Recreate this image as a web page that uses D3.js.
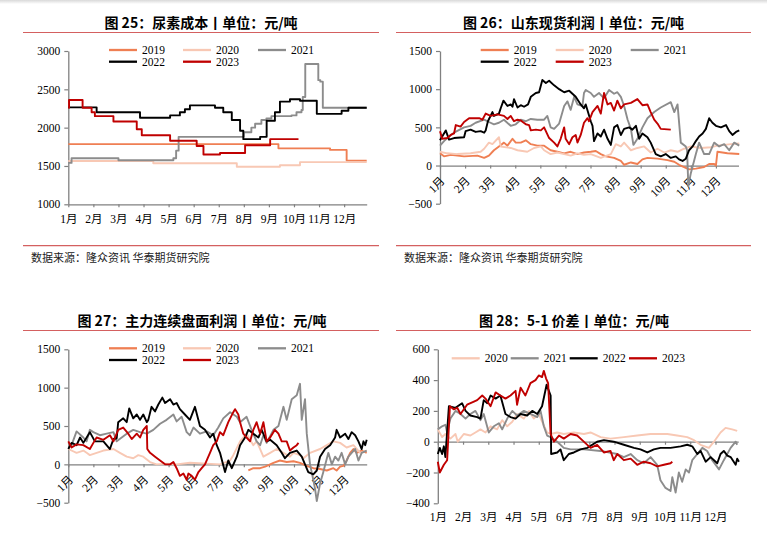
<!DOCTYPE html>
<html>
<head>
<meta charset="utf-8">
<script src="https://cdn.jsdelivr.net/npm/d3@7"></script>
<style>
body { margin: 0; background: #fff; }
</style>
</head>
<body>
<svg width="767" height="535"></svg>
<script>
// x values are month positions (0 = 1 Jan, 11.9 = end of Dec)
var monthTicks = [0, 1, 2, 3, 4, 5, 6, 7, 8, 9, 10, 11];
var monthLabels = ["1月", "2月", "3月", "4月", "5月", "6月", "7月", "8月", "9月", "10月", "11月", "12月"];

var yearColor = {"2019": "#ef7f53", "2020": "#f8c8b4", "2021": "#8c8c8c", "2022": "#000000", "2023": "#c00000"};

var costTicks = [1000, 1500, 2000, 2500, 3000];
var profitTicks = [-500, 0, 500, 1000, 1500];
var spreadTicks = [-400, -200, 0, 200, 400, 600];

// 图25 尿素成本 (step data)
var cost2019 = [[0,1785],[8.38,1730],[10.44,1710],[11.1,1570],[11.9,1570]];
var cost2020 = [[0,1565],[3.39,1535],[6.72,1490],[8.44,1510],[9.24,1550],[11.9,1550]];
var cost2021 = [[0,1540],[0.13,1600],[2.0,1575],[4.19,1600],[4.3,1700],[4.4,1880],[7.0,1940],[7.3,2000],[7.45,2050],[7.7,2100],[7.9,2120],[8.1,2150],[8.9,2160],[9.1,2200],[9.3,2230],[9.35,2400],[9.45,2830],[9.92,2830],[9.97,2620],[10.05,2600],[10.15,2260],[11.9,2260]];
var cost2022 = [[0,2265],[1.13,2200],[2.86,2130],[4.06,2160],[4.45,2200],[4.65,2240],[4.85,2290],[5.85,2260],[6.18,2200],[6.52,2100],[6.85,1960],[6.98,1850],[7.65,1880],[7.91,2090],[8.24,2200],[8.44,2340],[8.84,2370],[9.24,2350],[9.91,2180],[10.9,2220],[11.17,2260],[11.9,2260]];
var cost2023 = [[0,2260],[0.03,2360],[0.57,2260],[0.93,2200],[1.06,2150],[1.8,2080],[2.73,1980],[2.93,1900],[4.06,1830],[5.12,1760],[5.39,1650],[6.05,1670],[7.05,1770],[8.05,1850],[9.18,1850]];

// 图26 山东现货利润
var spot2019 = [[0,160],[0.16,120],[0.43,140],[0.96,120],[1.49,130],[1.76,100],[1.95,130],[2.15,200],[2.35,250],[2.55,300],[2.69,260],[2.89,350],[3.02,300],[3.22,300],[3.42,330],[3.62,280],[3.88,260],[4.15,260],[4.41,200],[4.68,180],[4.95,160],[5.21,180],[5.48,150],[5.74,170],[6.01,180],[6.21,190],[6.41,150],[6.61,120],[6.94,100],[7.21,60],[7.34,10],[7.61,40],[7.87,20],[8.07,80],[8.27,100],[8.67,90],[9.07,70],[9.34,50],[9.53,10],[9.73,-20],[9.93,-50],[10.2,-40],[10.53,-20],[10.73,20],[10.93,20],[11.0,0],[11.06,180],[11.46,160],[11.93,150]];
var spot2020 = [[0,180],[0.29,160],[0.69,150],[1.22,160],[1.62,180],[1.76,220],[1.95,300],[2.09,280],[2.35,370],[2.42,250],[2.82,230],[3.09,200],[3.48,180],[3.75,230],[4.02,250],[4.15,200],[4.41,150],[4.68,170],[4.95,150],[5.21,130],[5.48,160],[5.74,140],[6.01,150],[6.41,100],[6.81,150],[7.01,280],[7.21,250],[7.34,300],[7.61,200],[7.87,230],[8.14,250],[8.40,170],[8.67,220],[8.94,170],[9.20,200],[9.47,180],[9.73,220],[10.0,250],[10.4,230],[10.8,240],[11.06,260],[11.33,270],[11.60,280],[11.93,290]];
var spot2021 = [[0,260],[0.16,320],[0.43,400],[0.56,430],[0.96,500],[1.22,520],[1.42,560],[1.76,600],[1.95,570],[2.15,540],[2.35,560],[2.55,600],[2.82,520],[3.02,540],[3.22,600],[3.42,580],[3.62,610],[3.88,600],[4.15,600],[4.28,650],[4.41,500],[4.55,480],[4.75,550],[4.95,780],[5.08,840],[5.21,730],[5.35,900],[5.48,800],[5.68,780],[5.74,950],[5.81,990],[6.01,950],[6.14,900],[6.34,950],[6.54,880],[6.74,990],[6.94,940],[7.07,960],[7.21,900],[7.34,780],[7.48,600],[7.61,480],[7.71,270],[7.87,350],[8.07,500],[8.27,620],[8.54,700],[8.80,760],[9.20,830],[9.34,700],[9.47,800],[9.60,300],[9.80,250],[9.85,200],[9.9,-270],[10.0,-100],[10.2,150],[10.33,300],[10.53,150],[10.73,150],[10.93,300],[11.13,250],[11.33,280],[11.53,200],[11.73,300],[11.93,260]];
var spot2022 = [[0,330],[0.23,460],[0.36,340],[0.56,360],[0.96,370],[1.02,450],[1.22,470],[1.42,440],[1.62,450],[1.76,430],[1.82,460],[1.91,580],[2.09,700],[2.15,650],[2.35,680],[2.42,750],[2.53,850],[2.69,780],[2.82,800],[2.89,770],[2.95,870],[3.09,760],[3.22,790],[3.35,770],[3.51,800],[3.62,900],[3.82,950],[3.95,960],[4.08,1120],[4.22,1080],[4.35,1110],[4.55,1050],[4.75,1000],[4.95,960],[5.15,980],[5.41,900],[5.61,800],[5.74,750],[5.81,800],[5.90,700],[6.01,580],[6.08,520],[6.14,320],[6.28,420],[6.41,380],[6.54,470],[6.68,350],[6.81,270],[6.94,500],[7.07,530],[7.21,400],[7.34,480],[7.54,500],[7.67,470],[7.81,520],[7.94,350],[8.07,420],[8.27,370],[8.40,300],[8.60,150],[8.80,120],[9.00,150],[9.20,100],[9.40,120],[9.53,80],[9.67,60],[9.80,90],[9.93,200],[10.07,250],[10.2,320],[10.33,380],[10.47,420],[10.60,480],[10.73,620],[10.86,560],[11.0,520],[11.20,500],[11.40,530],[11.53,450],[11.66,400],[11.80,440],[11.93,460]];
var spot2023 = [[0,450],[0.09,350],[0.29,360],[0.43,400],[0.56,420],[0.63,530],[0.82,510],[0.96,570],[1.16,620],[1.56,620],[1.69,600],[1.82,680],[2.02,650],[2.29,670],[2.55,650],[2.69,610],[2.82,650],[2.95,580],[3.09,600],[3.22,590],[3.42,540],[3.55,530],[3.62,460],[3.82,470],[4.02,460],[4.15,500],[4.35,360],[4.55,300],[4.68,250],[4.81,350],[4.95,500],[5.01,350],[5.15,280],[5.28,370],[5.41,400],[5.48,300],[5.61,400],[5.74,560],[5.88,620],[5.94,580],[6.08,700],[6.28,780],[6.41,680],[6.54,950],[6.68,800],[6.81,820],[6.94,720],[7.07,850],[7.21,750],[7.34,800],[7.61,820],[7.87,870],[8.07,790],[8.27,800],[8.40,700],[8.54,600],[8.67,550],[8.80,480],[9.20,470]];

// 图27 主力连续盘面利润
var fut2019 = [[7.18,-80],[7.38,-50],[7.65,-50],[7.85,-30],[8.05,0],[8.18,20],[8.44,50],[8.71,30],[8.98,40],[9.24,20],[9.51,-20],[9.77,-50],[10.04,-60],[10.31,-80],[10.57,-50],[10.70,-80],[10.84,-30],[10.97,-20],[11.10,50],[11.24,150],[11.37,200],[11.50,150],[11.70,180],[11.90,150]];
var fut2020 = [[0,200],[0.33,150],[0.60,180],[0.73,150],[0.86,120],[1.13,150],[1.40,180],[1.80,200],[2.06,150],[2.33,100],[2.59,80],[2.79,120],[2.99,100],[3.26,30],[3.52,0],[3.92,10],[4.32,0],[4.85,20],[5.52,10],[6.05,0],[6.45,50],[6.58,120],[6.85,300],[7.11,400],[7.38,250],[7.51,300],[7.65,200],[7.78,100],[8.05,150],[8.31,200],[8.58,150],[8.84,100],[8.98,150],[9.24,120],[9.38,80],[9.64,150],[10.04,200],[10.31,250],[10.57,300],[10.84,280],[11.10,220],[11.37,250],[11.64,150],[11.90,180]];
var fut2021 = [[0,280],[0.13,250],[0.33,430],[0.60,350],[0.73,300],[0.86,450],[1.0,420],[1.26,380],[1.53,400],[1.80,420],[1.93,300],[2.13,350],[2.33,400],[2.59,450],[2.86,420],[3.13,400],[3.39,450],[3.66,530],[3.92,580],[4.19,650],[4.32,560],[4.52,620],[4.72,420],[4.85,380],[4.99,480],[5.25,400],[5.52,430],[5.78,380],[5.98,480],[6.18,600],[6.45,680],[6.72,620],[6.85,550],[7.11,620],[7.31,450],[7.51,300],[7.65,250],[7.78,380],[7.91,280],[8.18,450],[8.38,500],[8.58,750],[8.71,580],[8.91,850],[9.11,900],[9.24,1050],[9.31,580],[9.44,850],[9.51,400],[9.64,0],[9.77,-200],[9.84,-320],[9.91,-480],[10.04,-250],[10.17,-100],[10.37,150],[10.51,0],[10.64,100],[10.77,50],[10.90,150],[11.04,0],[11.17,100],[11.30,150],[11.44,200],[11.57,50],[11.70,150],[11.90,180]];
var fut2022 = [[0,200],[0.13,280],[0.33,250],[0.47,350],[0.60,280],[0.86,420],[1.06,300],[1.40,300],[1.66,200],[1.80,330],[1.93,340],[1.99,550],[2.19,600],[2.33,550],[2.43,730],[2.59,600],[2.73,650],[2.86,580],[2.99,650],[3.13,550],[3.19,580],[3.32,750],[3.46,690],[3.59,780],[3.75,870],[3.86,800],[4.06,850],[4.19,780],[4.32,800],[4.45,720],[4.65,650],[4.85,580],[5.05,750],[5.25,500],[5.45,450],[5.65,350],[5.78,400],[5.92,250],[6.05,150],[6.25,-100],[6.38,50],[6.52,-50],[6.72,100],[6.85,250],[7.05,350],[7.18,450],[7.38,400],[7.58,350],[7.71,450],[7.91,300],[8.05,320],[8.31,250],[8.51,150],[8.64,80],[8.84,150],[9.11,180],[9.31,100],[9.44,0],[9.57,-100],[9.77,-130],[9.91,-80],[10.04,100],[10.24,200],[10.44,250],[10.64,350],[10.70,450],[10.84,350],[11.04,400],[11.17,330],[11.30,420],[11.44,380],[11.57,300],[11.70,200],[11.77,300],[11.84,250],[11.90,320]];
var fut2023 = [[0,300],[0.13,220],[0.33,260],[0.60,250],[0.86,200],[1.0,280],[1.13,350],[1.40,320],[1.66,380],[1.80,300],[1.99,450],[2.19,480],[2.39,400],[2.53,330],[2.73,400],[2.86,350],[2.99,450],[3.13,500],[3.15,200],[3.26,150],[3.46,100],[3.66,50],[3.86,0],[4.06,0],[4.19,30],[4.32,-50],[4.45,-150],[4.59,-120],[4.72,-200],[4.79,-120],[4.92,-150],[5.05,-200],[5.19,-100],[5.32,-50],[5.45,0],[5.65,150],[5.78,250],[5.92,300],[6.05,420],[6.18,380],[6.38,550],[6.58,680],[6.65,720],[6.78,650],[6.85,550],[6.98,400],[7.11,350],[7.25,300],[7.38,450],[7.51,550],[7.65,400],[7.78,550],[7.91,300],[8.05,350],[8.24,450],[8.38,400],[8.51,300],[8.71,300],[8.84,180],[8.98,220],[9.11,250],[9.18,280]];

// 图28 5-1价差
var spread2020 = [[0,80],[0.17,30],[0.30,50],[0.50,20],[0.70,50],[0.79,0],[1.03,50],[1.29,40],[1.49,60],[1.69,80],[1.89,60],[2.09,100],[2.35,80],[2.55,140],[2.75,100],[2.95,130],[3.14,180],[3.41,150],[3.61,200],[3.80,150],[4.0,180],[4.13,130],[4.33,60],[4.47,50],[4.73,60],[4.99,50],[5.39,60],[5.79,50],[6.05,60],[6.45,30],[6.84,20],[7.37,30],[7.90,40],[8.43,50],[9.09,50],[9.48,40],[9.88,30],[10.15,10],[10.41,-20],[10.74,-40],[10.94,0],[11.20,60],[11.40,90],[11.66,80],[11.86,70]];
var spread2021 = [[0,80],[0.17,100],[0.30,110],[0.37,60],[0.50,150],[0.70,200],[0.90,180],[1.10,150],[1.29,180],[1.49,200],[1.69,140],[1.82,180],[2.02,60],[2.22,100],[2.42,120],[2.55,80],[2.75,150],[2.95,200],[3.14,170],[3.41,200],[3.67,180],[3.94,160],[4.07,200],[4.20,100],[4.33,40],[4.47,30],[4.73,0],[4.99,-40],[5.26,-50],[5.79,-50],[6.45,-60],[7.11,-80],[7.37,-100],[7.64,-80],[7.90,-120],[8.16,-140],[8.43,-100],[8.69,-150],[8.82,-250],[9.02,-300],[9.22,-320],[9.29,-230],[9.42,-330],[9.55,-200],[9.68,-260],[9.82,-180],[9.95,-200],[10.08,-120],[10.28,-80],[10.48,-40],[10.67,-60],[10.87,-120],[11.14,-180],[11.33,-120],[11.60,-40],[11.80,0],[11.86,-20]];
var spread2022 = [[0,-80],[0.08,-40],[0.17,-80],[0.24,-30],[0.30,-100],[0.44,230],[0.70,220],[0.96,250],[1.10,200],[1.29,170],[1.56,160],[1.69,150],[1.82,270],[1.96,250],[2.09,300],[2.29,280],[2.48,300],[2.68,180],[2.88,160],[3.08,150],[3.28,180],[3.54,170],[3.74,200],[3.94,180],[4.13,230],[4.31,370],[4.40,330],[4.47,300],[4.49,-80],[4.73,-70],[4.86,-50],[4.99,-120],[5.19,-80],[5.39,-70],[5.65,-50],[5.92,-40],[6.31,0],[6.58,10],[6.97,0],[7.37,-20],[7.77,-40],[8.03,-50],[8.30,-70],[8.56,-50],[8.82,-40],[9.22,-40],[9.62,-30],[9.88,-20],[10.08,-30],[10.28,-80],[10.41,-60],[10.61,-130],[10.81,-100],[11.07,-140],[11.20,-80],[11.33,-60],[11.47,-90],[11.60,-100],[11.80,-150],[11.86,-110],[11.93,-130]];
var spread2023 = [[0,-130],[0.08,-200],[0.24,-150],[0.37,-120],[0.48,230],[0.63,210],[0.77,220],[0.90,180],[1.16,240],[1.43,260],[1.56,270],[1.76,300],[1.89,280],[2.09,230],[2.29,320],[2.48,300],[2.68,280],[2.88,300],[3.08,330],[3.14,240],[3.28,350],[3.47,300],[3.67,380],[3.87,400],[4.0,430],[4.13,420],[4.20,460],[4.29,410],[4.37,380],[4.47,50],[4.60,0],[4.80,40],[4.99,20],[5.26,50],[5.52,40],[5.72,10],[6.05,-40],[6.31,-20],[6.58,-70],[6.84,-60],[6.97,-120],[7.11,-80],[7.37,-120],[7.64,-110],[7.90,-150],[8.16,-130],[8.43,-140],[8.69,-160],[8.96,-150],[9.22,-140],[9.29,-130]];

var svg = d3.select("svg");

// faint grey band along the top edge
var grad = svg.append("defs").append("linearGradient").attr("id", "topfade")
    .attr("x1", 0).attr("y1", 0).attr("x2", 0).attr("y2", 1);
grad.append("stop").attr("offset", "0%").attr("stop-color", "#d9d9d9");
grad.append("stop").attr("offset", "100%").attr("stop-color", "#ffffff");
svg.append("rect").attr("width", 767).attr("height", 4).attr("fill", "url(#topfade)");

var cjk = '"Noto Sans CJK SC", "Noto Sans", sans-serif';
var serif = '"Liberation Serif", "Times New Roman", "Noto Sans CJK SC", serif';
var redRule = "#d46060";

function drawPanel(p) {
    var g = svg.append("g");
    var x = d3.scaleLinear().domain([0, 11.9]).range([p.left, p.right]);
    var y = d3.scaleLinear().domain(p.yDomain).range([p.bottom, p.top]);

    // title + rules
    g.append("text")
        .attr("x", p.titleX).attr("y", p.titleY)
        .attr("text-anchor", "middle")
        .style("font-family", cjk).style("font-weight", "bold").style("font-size", "14px")
        .text(p.title);
    g.append("line")
        .attr("x1", p.ruleX1).attr("x2", p.ruleX2)
        .attr("y1", p.titleY + 5).attr("y2", p.titleY + 5)
        .attr("stroke", redRule).attr("stroke-width", 1.2);
    if (p.source) {
        g.append("line")
            .attr("x1", p.ruleX1).attr("x2", p.ruleX2)
            .attr("y1", 245.7).attr("y2", 245.7)
            .attr("stroke", redRule).attr("stroke-width", 1.2);
        g.append("text")
            .attr("x", p.ruleX1 + 8).attr("y", 262)
            .style("font-family", cjk).style("font-size", "11px").attr("fill", "#222")
            .text(p.source);
    }

    // y axis
    var ya = g.append("g")
        .attr("transform", "translate(" + p.left + ",0)")
        .call(d3.axisLeft(y).tickValues(p.yTicks).tickSize(4).tickSizeOuter(0).tickPadding(4)
            .tickFormat(d3.format("d")));
    ya.selectAll("text").style("font-family", serif).style("font-size", "11.5px").attr("fill", "#000");

    // x axis
    var axisY = y(p.xAxisAt);
    var xa = g.append("g")
        .attr("transform", "translate(0," + axisY + ")")
        .call(d3.axisBottom(x).tickValues(monthTicks).tickSize(3).tickSizeOuter(0).tickPadding(8)
            .tickFormat(function(d) { return p.labelsBelow ? "" : monthLabels[d]; }));
    xa.selectAll("text").style("font-family", serif).style("font-size", "11.5px").attr("fill", "#000");
    if (p.rotate) {
        xa.selectAll("text")
            .attr("y", null).attr("dy", null).attr("x", null)
            .attr("text-anchor", "end")
            .attr("transform", "translate(5,16) rotate(-45)");
    }
    if (p.labelsBelow) {
        var lb = g.append("g")
            .attr("transform", "translate(0," + p.bottom + ")")
            .call(d3.axisBottom(x).tickValues(monthTicks).tickSize(0).tickPadding(10)
                .tickFormat(function(d) { return monthLabels[d]; }));
        lb.select(".domain").remove();
        lb.selectAll("text").style("font-family", serif).style("font-size", "11.5px").attr("fill", "#000");
    }
    svg.selectAll(".domain").attr("stroke", "#808080").attr("stroke-width", 1.3);
    svg.selectAll(".tick line").attr("stroke", "#808080").attr("stroke-width", 1.2);

    // series
    var line = d3.line()
        .x(function(d) { return x(d[0]); })
        .y(function(d) { return y(d[1]); })
        .curve(p.step ? d3.curveStepAfter : d3.curveLinear);
    p.series.forEach(function(s) {
        g.append("path")
            .datum(s.values)
            .attr("d", line)
            .attr("fill", "none")
            .attr("stroke", yearColor[s.year])
            .attr("stroke-width", 1.9)
            .attr("stroke-linejoin", "round");
    });

    // legend
    p.series.forEach(function(s, i) {
        var pos = p.legend[i];
        g.append("line")
            .attr("x1", pos[0]).attr("x2", pos[0] + 28)
            .attr("y1", pos[1]).attr("y2", pos[1])
            .attr("stroke", yearColor[s.year]).attr("stroke-width", 2.3);
        g.append("text")
            .attr("x", pos[0] + 33).attr("y", pos[1]).attr("dy", "0.35em")
            .style("font-family", serif).style("font-size", "11.5px").attr("fill", "#000")
            .text(s.year);
    });
}

var source = "数据来源：隆众资讯 华泰期货研究院";

drawPanel({
    title: "图 25：尿素成本丨单位：元/吨", titleX: 201, titleY: 27.5, ruleX1: 23, ruleX2: 379, source: source,
    left: 68.3, right: 366.7, top: 51, bottom: 204.3,
    yDomain: [1000, 3000], yTicks: costTicks, xAxisAt: 1000, step: true,
    series: [{year: "2019", values: cost2019}, {year: "2020", values: cost2020}, {year: "2021", values: cost2021},
             {year: "2022", values: cost2022}, {year: "2023", values: cost2023}],
    legend: [[109, 50], [183, 50], [258, 50], [109, 61.7], [183, 61.7]]
});

drawPanel({
    title: "图 26：山东现货利润丨单位：元/吨", titleX: 573.5, titleY: 27.5, ruleX1: 396, ruleX2: 751, source: source,
    left: 440, right: 738.5, top: 51, bottom: 203.7,
    yDomain: [-500, 1500], yTicks: profitTicks, xAxisAt: 0, rotate: true,
    series: [{year: "2019", values: spot2019}, {year: "2020", values: spot2020}, {year: "2021", values: spot2021},
             {year: "2022", values: spot2022}, {year: "2023", values: spot2023}],
    legend: [[480.7, 50], [555.7, 50], [630.7, 50], [480.7, 61.7], [555.7, 61.7]]
});

drawPanel({
    title: "图 27：主力连续盘面利润丨单位：元/吨", titleX: 202, titleY: 325.5, ruleX1: 23, ruleX2: 379,
    left: 68.3, right: 366.7, top: 349.3, bottom: 502.7,
    yDomain: [-500, 1500], yTicks: profitTicks, xAxisAt: 0, rotate: true,
    series: [{year: "2019", values: fut2019}, {year: "2020", values: fut2020}, {year: "2021", values: fut2021},
             {year: "2022", values: fut2022}, {year: "2023", values: fut2023}],
    legend: [[109, 348.3], [183, 348.3], [258, 348.3], [109, 360], [183, 360]]
});

drawPanel({
    title: "图 28：5-1 价差丨单位：元/吨", titleX: 574, titleY: 325.5, ruleX1: 396, ruleX2: 751,
    left: 437.8, right: 738.2, top: 349.3, bottom: 503.3,
    yDomain: [-400, 600], yTicks: spreadTicks, xAxisAt: 0, labelsBelow: true,
    series: [{year: "2020", values: spread2020}, {year: "2021", values: spread2021},
             {year: "2022", values: spread2022}, {year: "2023", values: spread2023}],
    legend: [[451.7, 358.3], [510.7, 358.3], [569.7, 358.3], [629, 358.3]]
});
</script>
</body>
</html>
